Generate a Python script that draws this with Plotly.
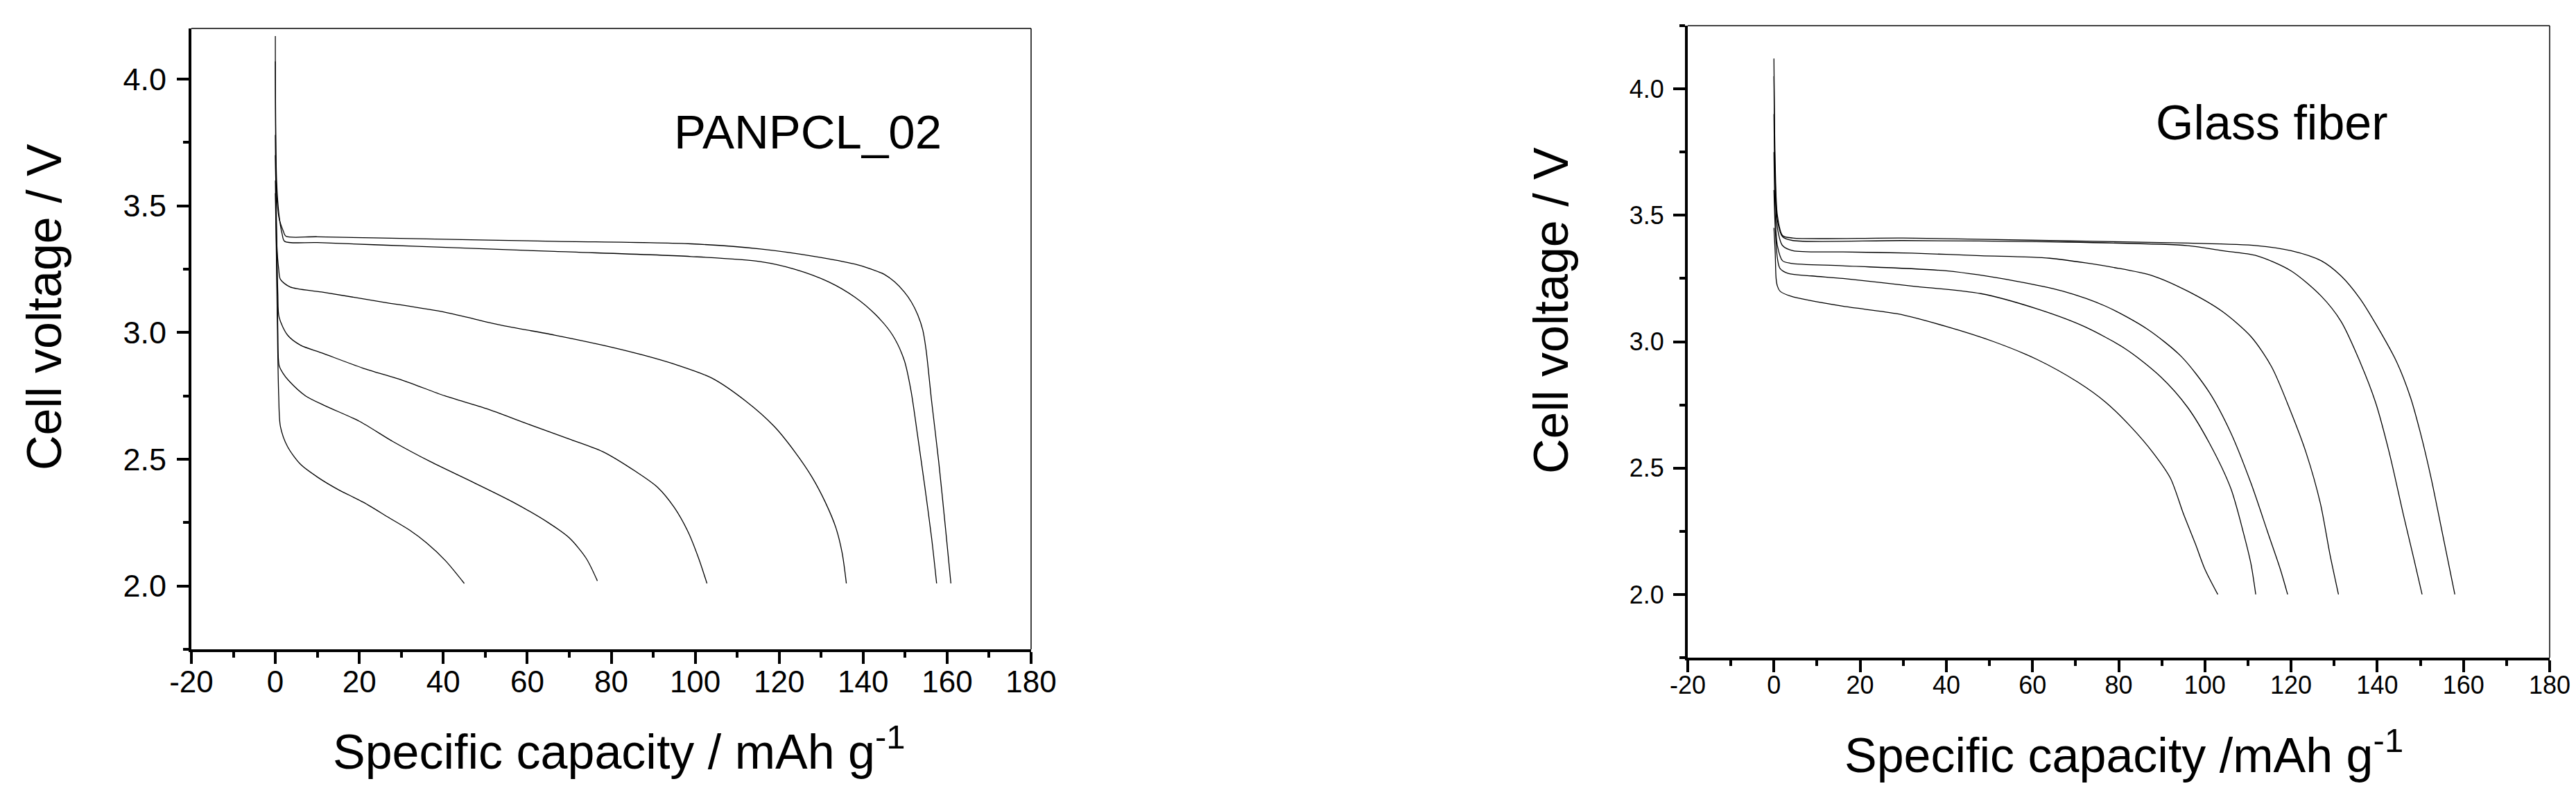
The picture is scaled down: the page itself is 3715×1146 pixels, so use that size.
import plotly.graph_objects as go

# PANPCL_02 separator: discharge curves (capacity in mAh/g, voltage in V)
pan_cap_1 = [0, 0.3, 0.55, 0.8, 1.2, 2.9, 6, 10, 15, 21, 27, 32, 36, 40.5, 45]
pan_v_1 = [3.55, 3.25, 2.95, 2.75, 2.63, 2.55, 2.48, 2.43, 2.38, 2.33, 2.27, 2.22, 2.17, 2.10, 2.01]
pan_cap_2 = [0, 0.3, 0.6, 0.9, 1.8, 3.2, 7.2, 12, 20, 28, 37, 47, 56.7, 65, 70, 74, 76.7]
pan_v_2 = [3.6, 3.3, 3.0, 2.87, 2.84, 2.81, 2.75, 2.71, 2.65, 2.57, 2.49, 2.41, 2.33, 2.25, 2.19, 2.11, 2.02]
pan_cap_3 = [0, 0.3, 0.6, 0.9, 2.9, 6, 11, 20.8, 30.6, 40.4, 50.2, 60, 70, 78, 86, 91, 95, 98.4, 100.8, 102.8]
pan_v_3 = [3.7, 3.4, 3.15, 3.06, 2.99, 2.95, 2.92, 2.86, 2.81, 2.75, 2.70, 2.64, 2.58, 2.53, 2.45, 2.39, 2.31, 2.21, 2.11, 2.01]
pan_cap_4 = [0, 0.35, 0.8, 1.2, 3.5, 11, 25.7, 40.4, 53.5, 66.5, 78, 87.8, 96, 104, 112, 118.8, 123.7, 127.8, 131, 133.5, 135, 136]
pan_v_4 = [3.78, 3.35, 3.25, 3.21, 3.18, 3.16, 3.12, 3.08, 3.03, 2.99, 2.95, 2.91, 2.87, 2.82, 2.73, 2.63, 2.53, 2.43, 2.33, 2.23, 2.13, 2.01]
pan_cap_5 = [0, 0.3, 0.9, 1.6, 2.2, 10, 33.9, 66.5, 99, 115.5, 123.7, 131.8, 138, 143, 147, 149.8, 151.4, 153, 154.7, 156.3, 157.5]
pan_v_5 = [4.07, 3.6, 3.46, 3.39, 3.36, 3.355, 3.34, 3.32, 3.30, 3.28, 3.25, 3.20, 3.14, 3.07, 2.99, 2.89, 2.77, 2.59, 2.39, 2.19, 2.01]
pan_cap_6 = [0, 0.3, 0.9, 1.9, 2.5, 10, 33.9, 66.5, 99, 115.5, 128.6, 138, 142, 145, 147.5, 149.8, 151.5, 153, 154.2, 155, 156.3, 158, 159.6, 160.9]
pan_v_6 = [4.17, 3.55, 3.45, 3.40, 3.38, 3.378, 3.37, 3.36, 3.35, 3.33, 3.30, 3.27, 3.25, 3.23, 3.20, 3.16, 3.12, 3.07, 3.01, 2.93, 2.73, 2.49, 2.23, 2.01]

# Glass fiber separator
gf_cap_1 = [0, 0.3, 0.8, 2, 4.4, 30, 64, 96, 112, 120, 127, 131.6, 136, 140, 144.5, 147.7, 150, 152.5, 154.9, 158]
gf_v_1 = [4.12, 3.7, 3.5, 3.42, 3.41, 3.41, 3.40, 3.39, 3.38, 3.36, 3.32, 3.26, 3.17, 3.06, 2.92, 2.78, 2.64, 2.46, 2.26, 2.0]
gf_cap_2 = [0, 0.3, 0.8, 2, 4.4, 30, 64, 96, 104, 112, 120, 127, 131.6, 136, 139.6, 142.8, 146, 148.5, 150.4]
gf_v_2 = [4.05, 3.65, 3.48, 3.415, 3.40, 3.40, 3.395, 3.38, 3.36, 3.34, 3.28, 3.18, 3.08, 2.92, 2.76, 2.56, 2.32, 2.14, 2.0]
gf_cap_3 = [0, 0.3, 0.8, 2, 4.4, 16, 32, 48, 64, 80, 88, 96, 104, 110.7, 115.5, 120, 123.5, 126.8, 129, 131]
gf_v_3 = [3.9, 3.6, 3.45, 3.38, 3.36, 3.355, 3.35, 3.34, 3.33, 3.29, 3.26, 3.20, 3.12, 3.02, 2.90, 2.72, 2.56, 2.36, 2.16, 2.0]
gf_cap_4 = [0, 0.3, 0.8, 2, 3.9, 16, 40, 56, 67, 77, 86.6, 94.6, 101, 106, 110.7, 114.7, 117.5, 119.2]
gf_v_4 = [3.75, 3.5, 3.38, 3.32, 3.31, 3.30, 3.28, 3.24, 3.20, 3.14, 3.05, 2.94, 2.80, 2.64, 2.44, 2.24, 2.10, 2.0]
gf_cap_5 = [0, 0.3, 0.8, 1.4, 3.3, 8.8, 16, 32, 48, 61, 72, 81.7, 89.8, 96, 101, 106, 109, 110.7, 111.8]
gf_v_5 = [3.6, 3.45, 3.33, 3.29, 3.27, 3.26, 3.25, 3.22, 3.19, 3.13, 3.06, 2.97, 2.86, 2.74, 2.60, 2.42, 2.24, 2.12, 2.0]
gf_cap_6 = [0, 0.3, 0.5, 0.8, 1.4, 3.9, 16, 28.7, 40, 51, 61, 70.5, 77, 83, 88, 92, 95, 97.8, 100, 103]
gf_v_6 = [3.45, 3.35, 3.25, 3.22, 3.20, 3.18, 3.14, 3.11, 3.06, 3.00, 2.93, 2.84, 2.76, 2.66, 2.56, 2.46, 2.32, 2.20, 2.10, 2.0]

x_tickvals = [-20, 0, 20, 40, 60, 80, 100, 120, 140, 160, 180]
x_ticktext = ["-20", "0", "20", "40", "60", "80", "100", "120", "140", "160", "180"]

pan_curves = [(pan_cap_1, pan_v_1), (pan_cap_2, pan_v_2), (pan_cap_3, pan_v_3),
              (pan_cap_4, pan_v_4), (pan_cap_5, pan_v_5), (pan_cap_6, pan_v_6)]
gf_curves = [(gf_cap_1, gf_v_1), (gf_cap_2, gf_v_2), (gf_cap_3, gf_v_3),
             (gf_cap_4, gf_v_4), (gf_cap_5, gf_v_5), (gf_cap_6, gf_v_6)]

W, H = 3715, 1146
FONT = "Liberation Sans, Arial, sans-serif"
CURVE = dict(color="black", width=1.3, shape="spline", smoothing=0.8)

fig = go.Figure()
for cap, v in pan_curves:
    fig.add_trace(go.Scatter(x=cap, y=v, mode="lines", line=CURVE,
                             xaxis="x", yaxis="y", showlegend=False, hoverinfo="skip"))
for cap, v in gf_curves:
    fig.add_trace(go.Scatter(x=cap, y=v, mode="lines", line=CURVE,
                             xaxis="x2", yaxis="y2", showlegend=False, hoverinfo="skip"))


def x_axis(domain, anchor, size):
    return dict(domain=domain, anchor=anchor, range=[-20, 180], automargin=False,
                showgrid=False, zeroline=False,
                showline=True, linecolor="black", linewidth=4,
                ticks="outside", ticklen=17, tickwidth=4, tickcolor="black",
                tickvals=x_tickvals, ticktext=x_ticktext, ticklabelstandoff=-12,
                minor=dict(ticks="outside", ticklen=8, tickwidth=4, tickcolor="black", dtick=10, tick0=0),
                tickfont=dict(family=FONT, size=size, color="black"))


def y_axis(domain, anchor, rng, size):
    return dict(domain=domain, anchor=anchor, range=rng, automargin=False,
                showgrid=False, zeroline=False,
                showline=True, linecolor="black", linewidth=4,
                ticks="outside", ticklen=17, tickwidth=4, tickcolor="black",
                tick0=0, dtick=0.5, tickformat=".1f", ticklabelstandoff=6,
                minor=dict(ticks="outside", ticklen=8, tickwidth=4, tickcolor="black", dtick=0.25, tick0=0),
                tickfont=dict(family=FONT, size=size, color="black"))


fig.update_layout(
    template="none",
    width=W, height=H,
    paper_bgcolor="white", plot_bgcolor="white",
    margin=dict(l=0, r=0, t=0, b=0, pad=0),
    font=dict(family=FONT, color="black"),
    xaxis=x_axis([268 / W, 1479 / W], "y", 44),
    yaxis=y_axis([1 - 928 / H, 1 - 33 / H], "x", [1.75, 4.2], 45),
    xaxis2=x_axis([2426 / W, 3669 / W], "y2", 36),
    yaxis2=y_axis([1 - 940 / H, 1 - 29 / H], "x2", [1.75, 4.25], 36),
)

# thin top/right frame lines
for xr, yr in [("x domain", "y domain"), ("x2 domain", "y2 domain")]:
    fig.add_shape(type="line", xref=xr, yref=yr, x0=0, x1=1, y0=1, y1=1, line=dict(color="black", width=1.5))
    fig.add_shape(type="line", xref=xr, yref=yr, x0=1, x1=1, y0=0, y1=1, line=dict(color="black", width=1.5))

# panel labels
fig.add_annotation(x=126.8, y=3.79, xref="x", yref="y", text="PANPCL_02", showarrow=False,
                   xanchor="center", yanchor="middle",
                   font=dict(family=FONT, size=69, color="black"))
fig.add_annotation(x=115.6, y=3.865, xref="x2", yref="y2", text="Glass fiber", showarrow=False,
                   xanchor="center", yanchor="middle",
                   font=dict(family=FONT, size=70, color="black"))

# axis titles
title_font = dict(family=FONT, size=70, color="black")
fig.add_annotation(x=56 / W, y=1 - 435 / H, xref="paper", yref="paper", text="Cell voltage / V",
                   textangle=-90, showarrow=False, xanchor="center", yanchor="middle", font=title_font)
fig.add_annotation(x=2229 / W, y=1 - 440 / H, xref="paper", yref="paper", text="Cell voltage / V",
                   textangle=-90, showarrow=False, xanchor="center", yanchor="middle", font=title_font)
fig.add_annotation(x=885 / W, y=1 - 1071 / H, xref="paper", yref="paper",
                   text="Specific capacity / mAh g<sup>-1</sup>",
                   showarrow=False, xanchor="center", yanchor="middle", font=title_font)
fig.add_annotation(x=3055 / W, y=1 - 1076 / H, xref="paper", yref="paper",
                   text="Specific capacity /mAh g<sup>-1</sup>",
                   showarrow=False, xanchor="center", yanchor="middle", font=title_font)

fig.write_html("out.html")
